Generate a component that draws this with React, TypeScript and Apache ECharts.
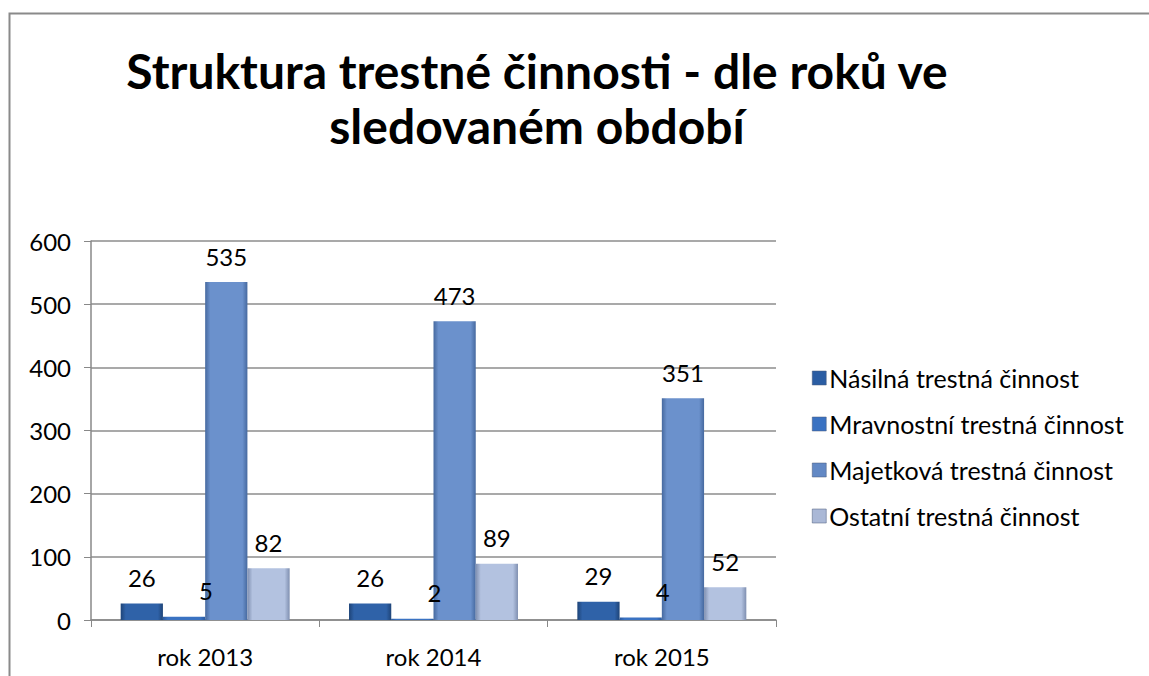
import React, { useEffect, useRef } from "react";
import * as echarts from "echarts";

const categories = ["rok 2013", "rok 2014", "rok 2015"];
const seriesNames = [
  "Násilná trestná činnost",
  "Mravnostní trestná činnost",
  "Majetková trestná činnost",
  "Ostatní trestná činnost",
];
const nasilna = [26, 26, 29];
const mravnostni = [5, 2, 4];
const majetkova = [535, 473, 351];
const ostatni = [82, 89, 52];
const yTicks = [0, 100, 200, 300, 400, 500, 600];

const FONT = "Lato, 'Open Sans', sans-serif";

function grad(edge: string, mid: string) {
  return new echarts.graphic.LinearGradient(0, 0, 1, 0, [
    { offset: 0, color: edge },
    { offset: 0.12, color: mid },
    { offset: 0.88, color: mid },
    { offset: 1, color: edge },
  ]);
}

export default function App() {
  const ref = useRef<HTMLDivElement>(null);
  useEffect(() => {
    document.body.style.margin = "0";
    const chart = echarts.init(ref.current!, null, { renderer: "svg" });
    const colors = [
      grad("#1e4478", "#2f62a8"),
      grad("#2a5aa0", "#3a72c2"),
      grad("#46699f", "#6b91cc"),
      grad("#7f8fb0", "#b3c2e0"),
    ];
    const legendColors = ["#2b5da3", "#3a72c2", "#6288c4", "#aab8d6"];
    const data = [nasilna, mravnostni, majetkova, ostatni];
    chart.setOption({
      animation: false,
      backgroundColor: "#fff",
      graphic: [
        {
          type: "rect",
          shape: { x: 9.5, y: 13.5, width: 1300, height: 800 },
          style: { fill: "none", stroke: "#8a8a8a", lineWidth: 2 },
          silent: true,
        },
      ],
      title: {
        text: "Struktura trestné činnosti - dle roků ve\nsledovaném období",
        left: 532,
        top: 38,
        textAlign: "center",
        textStyle: {
          fontFamily: FONT,
          fontWeight: "bold",
          fontSize: 48,
          lineHeight: 55,
          color: "#000",
        },
      },
      legend: {
        orient: "vertical",
        left: 807,
        top: 360,
        itemWidth: 14,
        itemHeight: 14,
        itemGap: 20,
        icon: "rect",
        data: seriesNames.map((n, i) => ({
          name: n,
          itemStyle: { color: legendColors[i], borderColor: "#4a5a78", borderWidth: 0.5 },
        })),
        textStyle: { fontFamily: FONT, fontSize: 25, lineHeight: 26, color: "#000", padding: [0, 0, 0, -2] },
      },
      grid: { left: 91, right: 373, top: 241, bottom: 56, containLabel: false },
      xAxis: {
        type: "category",
        data: categories,
        axisLine: { show: true, lineStyle: { color: "#888", width: 1.5 } },
        axisTick: { show: true, length: 7, lineStyle: { color: "#888" } },
        axisLabel: { fontFamily: FONT, fontSize: 24, color: "#000", margin: 24 },
      },
      yAxis: {
        type: "value",
        min: yTicks[0],
        max: yTicks[yTicks.length - 1],
        interval: 100,
        axisLine: { show: true, lineStyle: { color: "#888", width: 1.5 } },
        axisTick: { show: true, length: 7, lineStyle: { color: "#888" } },
        splitLine: { show: true, lineStyle: { color: "#8c8c8c", width: 1.5 } },
        axisLabel: { fontFamily: FONT, fontSize: 24, color: "#000", margin: 20 },
      },
      series: seriesNames.map((n, i) => ({
        name: n,
        type: "bar",
        data: data[i],
        barGap: "0%",
        barCategoryGap: "26%",
        itemStyle: { color: colors[i] },
        label: {
          show: true,
          position: "top",
          distance: 14,
          offset: i === 1 ? [22, 0] : [0, 0],
          fontFamily: FONT,
          fontSize: 24,
          color: "#000",
        },
      })),
    });
    return () => chart.dispose();
  }, []);
  return <div ref={ref} style={{ width: 1149, height: 676 }} />;
}
